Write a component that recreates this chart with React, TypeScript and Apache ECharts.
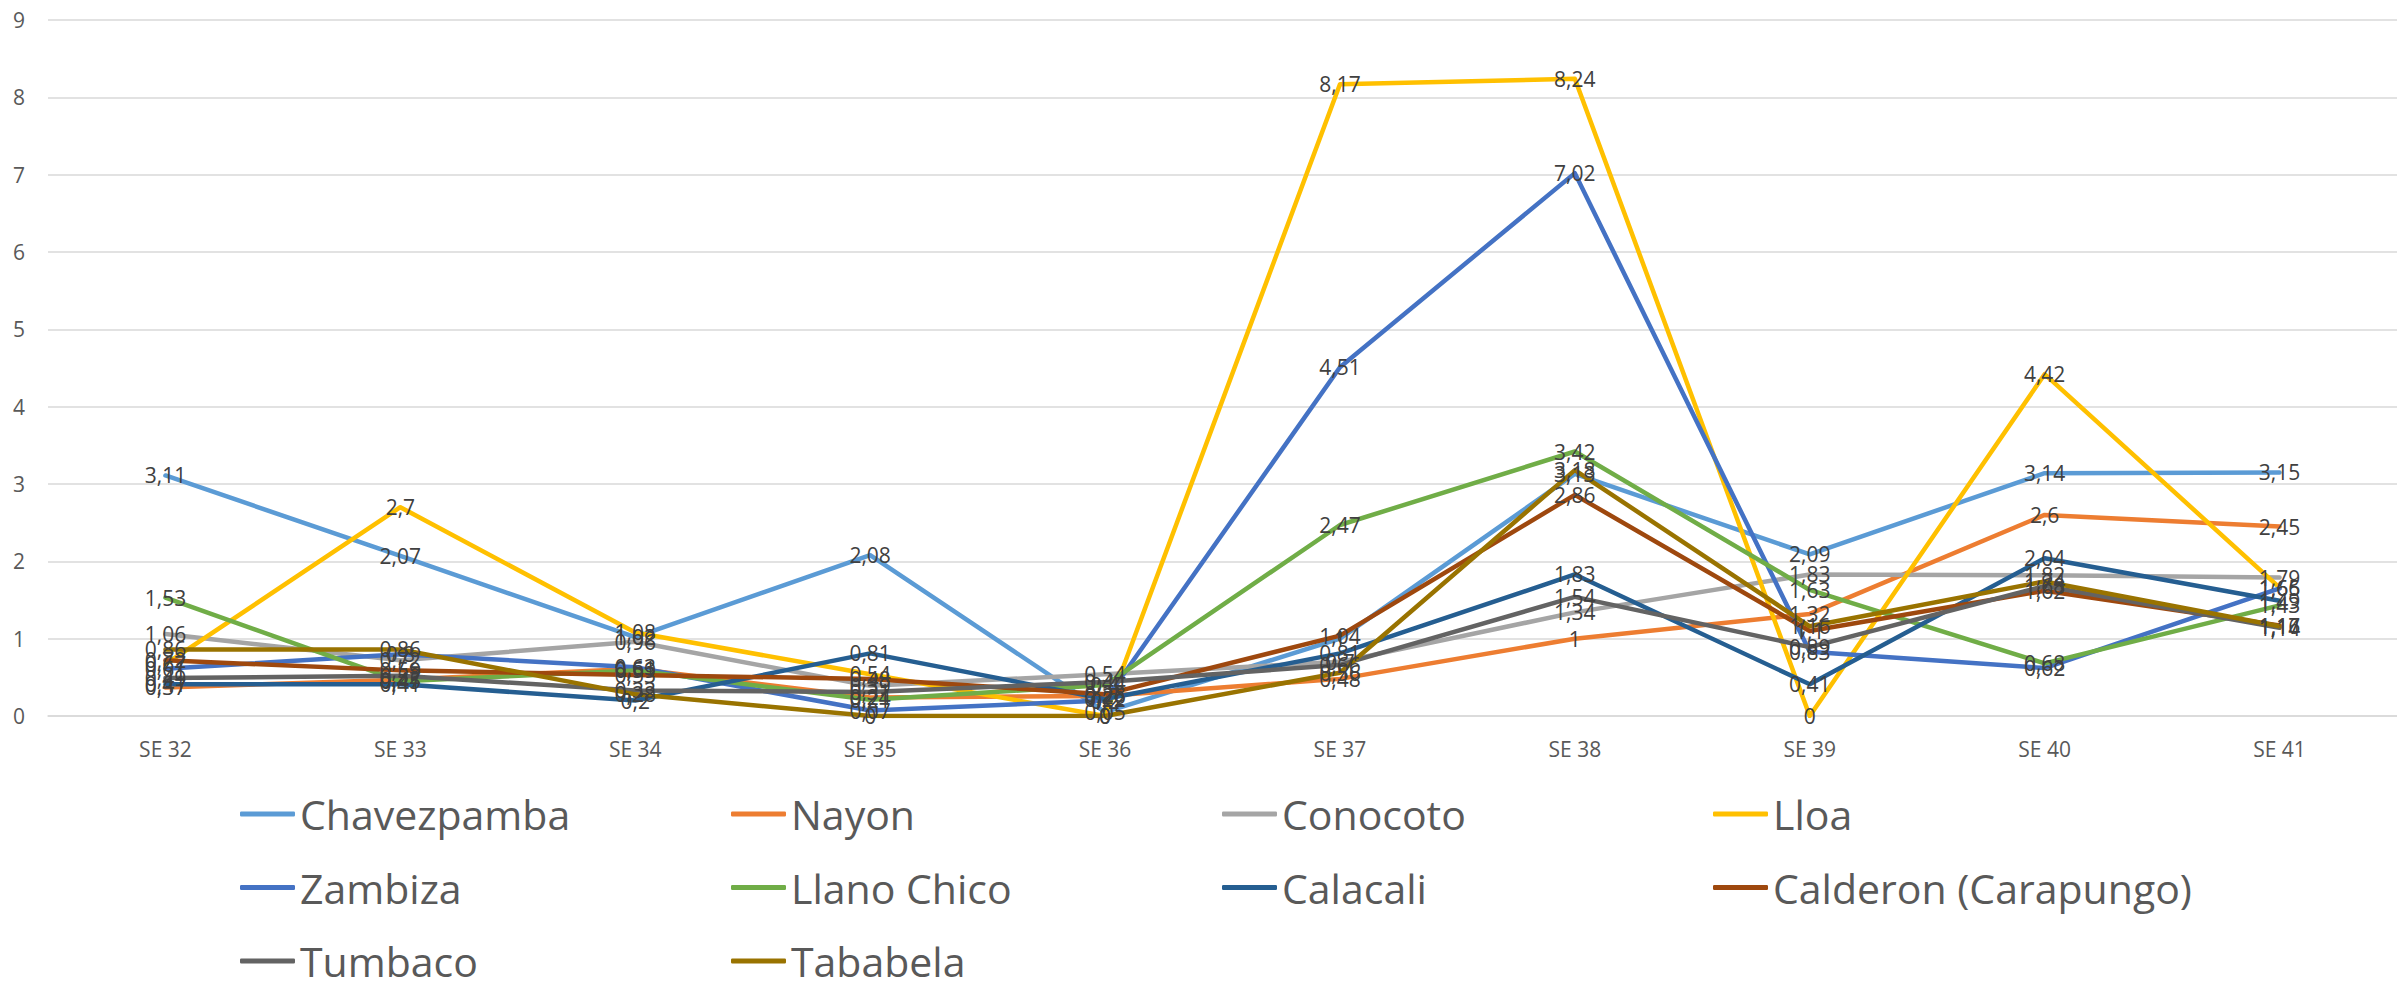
import React, { useEffect, useRef } from "react";
import * as echarts from "echarts";

const categories = ["SE 32", "SE 33", "SE 34", "SE 35", "SE 36", "SE 37", "SE 38", "SE 39", "SE 40", "SE 41"];
const yTicks = [0, 9, 1];

const chavezpamba = [3.11, 2.07, 1.02, 2.08, 0.05, 1.0, 3.13, 2.09, 3.14, 3.15];
const nayon = [0.37, 0.47, 0.61, 0.24, 0.26, 0.48, 1, 1.32, 2.6, 2.45];
const conocoto = [1.06, 0.72, 0.96, 0.39, 0.54, 0.7, 1.34, 1.83, 1.82, 1.79];
const lloa = [0.67, 2.7, 1.08, 0.54, 0, 8.17, 8.24, 0, 4.42, 1.66];
const zambiza = [0.61, 0.8, 0.63, 0.07, 0.2, 4.51, 7.02, 0.83, 0.62, 1.65];
const llanoChico = [1.53, 0.45, 0.59, 0.21, 0.4, 2.47, 3.42, 1.63, 0.68, 1.43];
const calacali = [0.41, 0.41, 0.2, 0.81, 0.22, 0.81, 1.83, 0.41, 2.04, 1.49];
const calderon = [0.72, 0.59, 0.53, 0.48, 0.28, 1.04, 2.86, 1.1, 1.62, 1.17];
const tumbaco = [0.49, 0.52, 0.33, 0.31, 0.44, 0.66, 1.54, 0.89, 1.68, 1.14];
const tababela = [0.86, 0.86, 0.28, 0, 0, 0.56, 3.18, 1.16, 1.74, 1.16];

const seriesNames = [
  "Chavezpamba",
  "Nayon",
  "Conocoto",
  "Lloa",
  "Zambiza",
  "Llano Chico",
  "Calacali",
  "Calderon (Carapungo)",
  "Tumbaco",
  "Tababela",
];
const seriesData = [chavezpamba, nayon, conocoto, lloa, zambiza, llanoChico, calacali, calderon, tumbaco, tababela];
const seriesColors = [
  "#5B9BD5",
  "#ED7D31",
  "#A5A5A5",
  "#FFC000",
  "#4472C4",
  "#70AD47",
  "#255E91",
  "#9E480E",
  "#636363",
  "#997300",
];
const legendRows = [
  ["Chavezpamba", "Nayon", "Conocoto", "Lloa"],
  ["Zambiza", "Llano Chico", "Calacali", "Calderon (Carapungo)"],
  ["Tumbaco", "Tababela"],
];

const FONT = "'Open Sans', 'Noto Sans', sans-serif";

export default function App() {
  const ref = useRef<HTMLDivElement>(null);
  useEffect(() => {
    if (!ref.current) return;
    const chart = echarts.init(ref.current, null, { renderer: "svg" });
    const fmt = (p: any) => String(p.value).replace(".", ",");
    const option: any = {
      animation: false,
      backgroundColor: "#FFFFFF",
      textStyle: { fontFamily: FONT },
      grid: { left: 48, top: 20, width: 2360, height: 696, containLabel: false },
      xAxis: {
        type: "category",
        data: categories,
        boundaryGap: true,
        axisLine: { show: true, lineStyle: { color: "#D9D9D9", width: 1.5 } },
        axisTick: { show: false },
        axisLabel: { color: "#595959", fontSize: 21, fontFamily: FONT, margin: 22 },
        splitLine: { show: false },
      },
      yAxis: {
        type: "value",
        min: yTicks[0],
        max: yTicks[1],
        interval: yTicks[2],
        axisLine: { show: false },
        axisTick: { show: false },
        axisLabel: { color: "#595959", fontSize: 21, fontFamily: FONT, margin: 23 },
        splitLine: { show: true, lineStyle: { color: "#D9D9D9", width: 1.5 } },
      },
      legend: legendRows.map((row, i) => ({
        data: row,
        left: 240,
        top: 790 + i * 73.5,
        orient: "horizontal",
        itemGap: 0,
        itemWidth: 55,
        itemHeight: 5,
        icon: "roundRect",
        padding: 0,
        selectedMode: false,
        textStyle: { fontSize: 41, color: "#595959", fontFamily: FONT, width: 431, lineHeight: 48 },
      })),
      series: seriesNames.map((name, i) => ({
        name,
        type: "line",
        data: seriesData[i],
        symbol: "circle",
        symbolSize: 1,
        showSymbol: true,
        itemStyle: { color: seriesColors[i] },
        lineStyle: { color: seriesColors[i], width: 4.5, cap: "round", join: "round" },
        label: {
          show: true,
          position: "inside",
          formatter: fmt,
          color: "#404040",
          fontSize: 21,
          fontFamily: FONT,
        },
        emphasis: { disabled: true },
        silent: true,
      })),
    };
    chart.setOption(option);
    return () => chart.dispose();
  }, []);
  return (
    <div
      ref={ref}
      style={{ position: "absolute", left: 0, top: 0, width: 2397, height: 983, background: "#FFFFFF" }}
    />
  );
}
